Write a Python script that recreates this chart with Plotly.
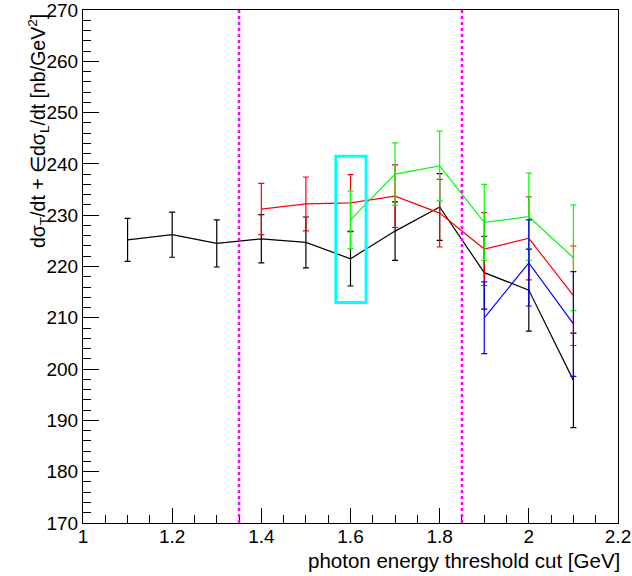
import plotly.graph_objects as go

# Photon energy threshold cuts [GeV]
x_black = [1.1, 1.2, 1.3, 1.4, 1.5, 1.6, 1.7, 1.8, 1.9, 2.0, 2.1]
x_red = [1.4, 1.5, 1.6, 1.7, 1.8, 1.9, 2.0, 2.1]
x_green = [1.6, 1.7, 1.8, 1.9, 2.0, 2.1]
x_blue = [1.9, 2.0, 2.1]

# Cross sections [nb/GeV^2] and their uncertainties
y_black = [225.2, 226.2, 224.5, 225.4, 224.7, 221.5, 226.9, 231.6, 218.8, 215.4, 197.8]
e_black = [4.2, 4.4, 4.6, 4.7, 4.95, 5.3, 5.7, 6.5, 7.1, 8.0, 9.2]
y_red = [231.2, 232.2, 232.4, 233.7, 230.4, 223.4, 225.5, 214.3]
e_red = [5.0, 5.25, 5.5, 6.1, 6.6, 7.1, 8.1, 9.7]
y_green = [229.1, 238.0, 239.6, 228.6, 229.7, 221.7]
e_green = [5.6, 6.1, 6.8, 7.4, 8.5, 10.3]
y_blue = [210.0, 220.7, 208.8]
e_blue = [7.0, 8.4, 10.2]

# Axis ticks
x_ticks = [1.0, 1.2, 1.4, 1.6, 1.8, 2.0, 2.2]
x_tick_text = ["1", "1.2", "1.4", "1.6", "1.8", "2", "2.2"]
y_ticks = [170, 180, 190, 200, 210, 220, 230, 240, 250, 260, 270]

# Reference cut window and highlighted bin
cut_lines = [1.35, 1.85]
box_x = [1.567, 1.635]
box_y = [213.0, 241.5]

FONT = "Liberation Sans, Arial, Helvetica, sans-serif"

fig = go.Figure()

series = [
    (x_black, y_black, e_black, "#000000"),
    (x_red, y_red, e_red, "#ff0000"),
    (x_green, y_green, e_green, "#00ff00"),
    (x_blue, y_blue, e_blue, "#0000ff"),
]
for xs, ys, es, col in series:
    fig.add_trace(go.Scatter(
        x=xs, y=ys, mode="lines",
        line=dict(color=col, width=1.2),
        error_y=dict(type="data", array=es, color=col, thickness=1.2, width=3),
        showlegend=False,
    ))

for xc in cut_lines:
    fig.add_shape(type="line", xref="x", yref="paper", x0=xc, x1=xc, y0=0, y1=1,
                  line=dict(color="#ff00ff", width=2.5, dash="dot"))

fig.add_shape(type="rect", xref="x", yref="y",
              x0=box_x[0], x1=box_x[1], y0=box_y[0], y1=box_y[1],
              line=dict(color="#00ffff", width=3))

axis_common = dict(
    showgrid=False, zeroline=False, showline=True, mirror=True,
    linecolor="#000000", linewidth=1, automargin=False,
    ticks="inside", tickcolor="#000000", tickwidth=1,
    ticklabeloverflow="allow",
    tickfont=dict(family=FONT, size=19, color="#000000"),
)

fig.update_xaxes(
    range=[1.0, 2.2], tickvals=x_ticks, ticktext=x_tick_text, ticklen=15,
    ticklabelstandoff=-4,
    minor=dict(ticks="inside", dtick=0.05, tick0=1.0, ticklen=8, tickcolor="#000000"),
    **axis_common,
)
fig.update_yaxes(
    range=[170, 270], tickvals=y_ticks, ticklen=16,
    minor=dict(ticks="inside", dtick=2, tick0=170, ticklen=8, tickcolor="#000000"),
    **axis_common,
)

fig.add_annotation(
    text="photon energy threshold cut [GeV]",
    xref="paper", yref="paper", x=1.008, y=-0.046, xanchor="right", yanchor="top",
    showarrow=False, font=dict(family=FONT, size=20.5, color="#000000"),
)
fig.add_annotation(
    text="dσ<sub>T</sub>/dt + ∈dσ<sub>L</sub>/dt [nb/GeV<sup>2</sup>]",
    xref="paper", yref="paper", x=-0.084, y=0.996, xanchor="center", yanchor="top",
    textangle=-90, showarrow=False, font=dict(family=FONT, size=19.5, color="#000000"),
)

fig.update_layout(
    width=632, height=576,
    margin=dict(l=83, r=14, t=10, b=53),
    paper_bgcolor="#ffffff", plot_bgcolor="#ffffff",
)

fig.write_html("out.html")
